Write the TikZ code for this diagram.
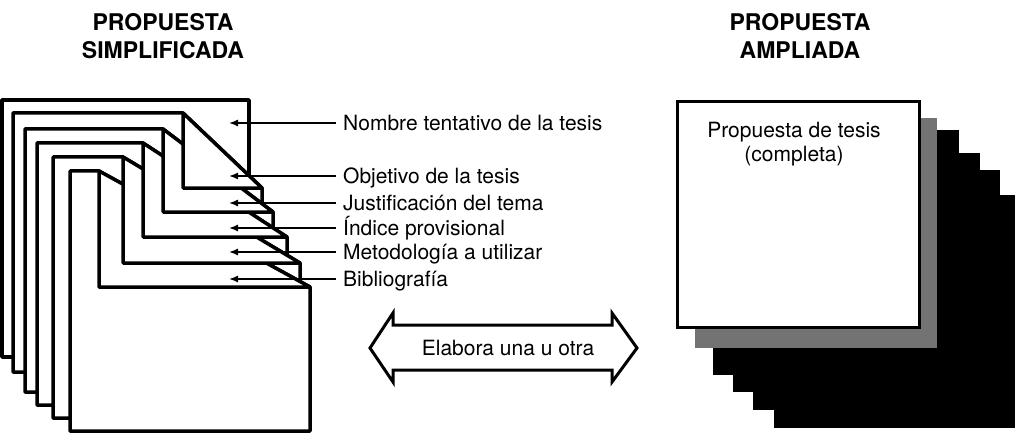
\documentclass[tikz,border=0pt]{standalone}
\usepackage{fontspec}
\setmainfont{TeX Gyre Heros}
\usetikzlibrary{arrows.meta,positioning}
\tikzset{page/.style={fill=white,draw=black,line width=3.5pt,line join=round},
         pointer/.style={-{Latex[length=9pt,width=7pt]},line width=1.4pt},
         lbl/.style={anchor=west,inner sep=0pt,text height=15pt,text depth=0pt,font=\fontsize{21}{24}\selectfont},
         title/.style={anchor=north,inner sep=0pt,align=center,font=\fontsize{23}{28}\selectfont\bfseries}
}

\begin{document}
\begin{tikzpicture}[x=1pt,y=-1pt]
  \useasboundingbox(0,0)rectangle(1015,433);
  \node[title](simple)at(163,13){PROPUESTA\\SIMPLIFICADA};
  \node[title](wide)at(800,13){PROPUESTA\\AMPLIADA};
  % pile of pages, back to front
  \draw[page](2,100)rectangle(249,357);
  \foreach\l/\t/\f/\r/\h/\b in {13/113/183/262/188/372,25/129/163/273/212/392,37/143/143/287/237/405,53/157/123/300/263/418,70/171/99/310/287/431} {
     \draw[page](\l,\t)--(\f,\t)--(\r,\h)--(\r,\b)--(\l,\b)--cycle;
  }
  % folded corners, front to back
  \foreach\t/\f/\r/\h in {171/99/310/287,157/123/300/263,143/143/287/237,129/163/273/212,113/183/262/188} {
     \draw[page](\f,\t)--(\f,\h)--(\r,\h)--cycle;
  }
  \foreach\i/\y/\txt in {1/123/Nombre tentativo de la tesis,2/176/Objetivo de la tesis,3/203/Justificación del tema,4/228/Índice provisional,5/252/Metodología a utilizar,6/279/Bibliografía} {
     \node[lbl](n\i)at(343,\y){\txt};
     \coordinate(tip\i)at(229,\y);
     \draw[pointer]([xshift=-7pt]n\i.west)--(tip\i);
  }
  % one or the other
  \node[inner sep=0pt,font=\fontsize{21}{24}\selectfont](choice)at(508,348){Elabora una u otra};
  \draw[line width=3pt](370,348)--(393,313)--(393,325)--(612,325)--(612,313)--(637,348)--(612,382)--(612,370)--(393,370)--(393,382)--cycle;
  % full proposal with its shadow
  \fill(774,195)rectangle(1015,428);
  \fill(753,170)rectangle(1000,410);
  \fill(733,153)rectangle(980,392);
  \fill(713,130)rectangle(959,375);
  \fill[black!55](695,118)rectangle(937,348);
  \node[draw,fill=white,line width=3pt,minimum width=242pt,minimum height=225pt,inner sep=0pt](full)at(798,214.5){};
  \node[below=21pt of full.north,xshift=-4pt,inner sep=0pt,align=center,font=\fontsize{21}{24}\selectfont](fulltxt){Propuesta de tesis\\(completa)};
\end{tikzpicture}
\end{document}
